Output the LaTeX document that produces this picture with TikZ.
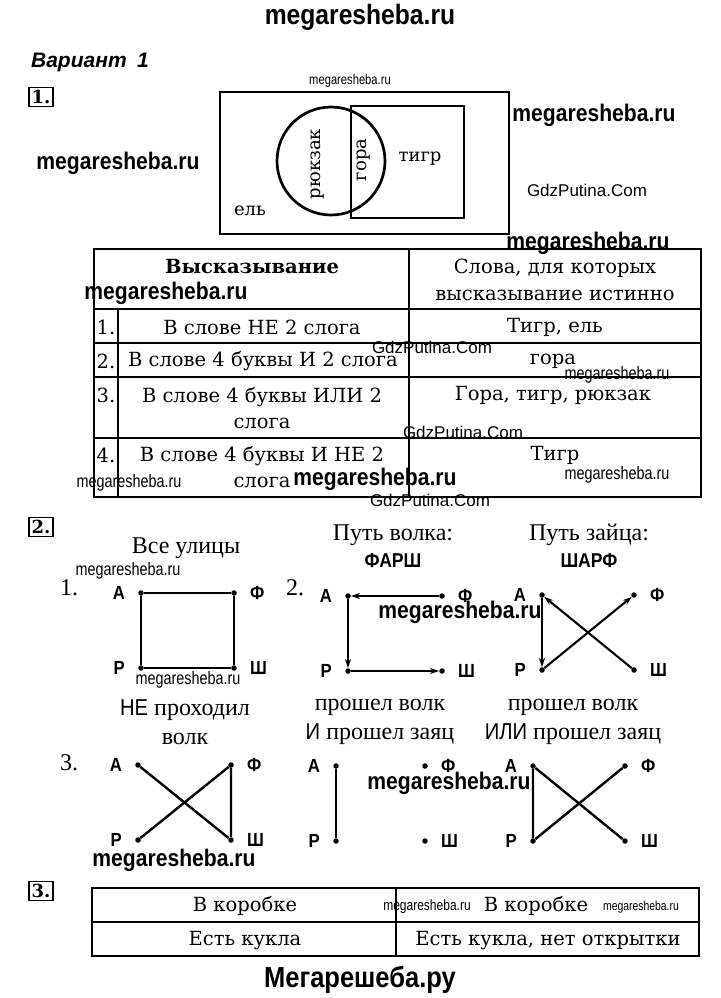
\documentclass[tikz,border=0pt]{standalone}
\usepackage{fontspec}
\setmainfont{DejaVu Serif}
\newfontfamily\timesfont{Liberation Serif}
\newfontfamily\wmfont[FakeStretch=0.88]{Liberation Sans}
\newfontfamily\thinfont[FakeStretch=0.8]{Liberation Sans}
\newfontfamily\gdzfont{Liberation Sans}
\usetikzlibrary{arrows.meta,positioning}
\newcommand{\sansword}[1]{{\wmfont\fontsize{23}{23}\selectfont #1}}

\begin{document}
\begin{tikzpicture}[x=1pt, y=-1pt,
  wmark/.style={inner sep=0, font=\wmfont\bfseries\fontsize{24}{24}\selectfont},
  wbig/.style={inner sep=0, font=\wmfont\bfseries\fontsize{28}{28}\selectfont},
  wthin/.style={inner sep=0, font=\thinfont\fontsize{18}{18}\selectfont},
  gdz/.style={inner sep=0, font=\gdzfont\fontsize{17}{17}\selectfont},
  cell/.style={inner sep=0, align=center, font=\fontsize{19.5}{26.5}\selectfont},
  vtext/.style={inner sep=0, font=\fontsize{18}{18}\selectfont},
  head/.style={inner sep=0, align=center, font=\timesfont\fontsize{24}{29}\selectfont},
  numbox/.style={draw, line width=1.3pt, inner sep=2.5pt, font=\bfseries\fontsize{18}{18}\selectfont},
  venn/.style={line width=2.7pt},
  grid/.style={line width=1.5pt},
  vtx/.style={circle, fill, inner sep=0, minimum size=5.5pt},
  lbl/.style={inner sep=0, font=\wmfont\bfseries\fontsize{19}{19}\selectfont},
  edge/.style={line width=2.4pt},
  arr/.style={line width=2.1pt, -{Stealth[length=9pt, width=6pt]}}
]
  \fill[white] (0,0) rectangle (720,998);
  \useasboundingbox (0,0) rectangle (720,998);

  \node[wbig] (site) at (360,17) {megaresheba.ru};
  \node[inner sep=0, font=\gdzfont\bfseries\itshape\fontsize{21}{21}\selectfont] (variant) at (90,62) {Вариант\enspace 1};

  % task 1
  \node[numbox] (n1) at (41,97) {1.};
  \node[wthin, font=\thinfont\fontsize{14}{14}\selectfont] (w1) at (350,81) {megaresheba.ru};
  \draw[venn] (220,92) rectangle (509,234);
  \draw[venn] (351,106) rectangle (464,218);
  \draw[venn] (331,161) circle[radius=54];
  \node[vtext, rotate=90] (ryukzak) at (318,164) {рюкзак};
  \node[vtext, rotate=90] (gora) at (364,160) {гора};
  \node[vtext] (tigr) at (420,159) {тигр};
  \node[vtext] (el) at (250,211) {ель};
  \node[wmark] (w2) at (594,115) {megaresheba.ru};
  \node[wmark] (w3) at (118,163) {megaresheba.ru};
  \node[gdz] (g1) at (587,190) {GdzPutina.Com};

  \draw[grid] (94,249) rectangle (701,497);
  \draw[grid] (409,249) -- (409,497);
  \draw[grid] (118,309) -- (118,497);
  \foreach \y in {309,343,377,438}
    \draw[grid] (94,\y) -- (701,\y);
  \node[cell, font=\bfseries\fontsize{19.5}{26.5}\selectfont] (h1) at (252,267) {Высказывание};
  \node[cell] (h2) at (555,280) {Слова, для которых\\высказывание истинно};
  \node[cell] (k1) at (106,327) {1.};
  \node[cell] (k2) at (106,361) {2.};
  \node[cell] (k3) at (106,395) {3.};
  \node[cell] (k4) at (106,455) {4.};
  \node[cell] (s1) at (262,327) {В слове НЕ 2 слога};
  \node[cell] (s2) at (263,361) {В слове 4 буквы И 2 слога};
  \node[cell] (s3) at (262,408) {В слове 4 буквы ИЛИ 2\\слога};
  \node[cell] (s4) at (262,467) {В слове 4 буквы И НЕ 2\\слога};
  \node[cell] (r1) at (555,327) {Тигр, ель};
  \node[cell] (r2) at (553,361) {гора};
  \node[cell] (r3) at (553,395) {Гора, тигр, рюкзак};
  \node[cell] (r4) at (555,455) {Тигр};
  \node[wmark] (w4) at (588,243) {megaresheba.ru};
  \node[wmark] (w5) at (166,293) {megaresheba.ru};
  \node[gdz] (g2) at (432,347) {GdzPutina.Com};
  \node[wthin] (w6) at (617,375) {megaresheba.ru};
  \node[gdz] (g3) at (463,432) {GdzPutina.Com};
  \node[wmark] (w7) at (375,479) {megaresheba.ru};
  \node[wthin] (w8) at (617,475) {megaresheba.ru};
  \node[wthin] (w9) at (129,483) {megaresheba.ru};
  \node[gdz] (g4) at (430,500) {GdzPutina.Com};

  % task 2
  \node[numbox] (n2) at (41,527) {2.};
  \node[head] (t1) at (186,548) {Все улицы};
  \node[head] (t2) at (393,535) {Путь волка:};
  \node[lbl, font=\wmfont\bfseries\fontsize{20}{20}\selectfont] (p2) at (393,561) {ФАРШ};
  \node[head] (t3) at (589,535) {Путь зайца:};
  \node[lbl, font=\wmfont\bfseries\fontsize{20}{20}\selectfont] (p3) at (589,561) {ШАРФ};
  \node[head] (m1) at (69,588) {1.};
  \node[head] (m2) at (295,588) {2.};
  \node[head] (m3) at (69,763) {3.};
  \node[head] (t4) at (185,722) {\sansword{НЕ} проходил\\волк};
  \node[head] (t5) at (380,722) {прошел волк\\\sansword{И} прошел заяц};
  \node[head] (t6) at (573,722) {прошел волк\\\sansword{ИЛИ} прошел заяц};

  \foreach \g/\x/\y/\w in {1/141/593/93, 2/348/596/94, 3/542/595/92,
                           4/138/765/93, 5/336/766/89, 6/533/766/92} {
    \node[vtx] (a\g) at (\x,\y) {};
    \node[vtx] (f\g) at (\x+\w,\y) {};
    \node[vtx] (r\g) at (\x,\y+75) {};
    \node[vtx] (sh\g) at (\x+\w,\y+75) {};
    \node[lbl, left=13pt of a\g] (la\g) {А};
    \node[lbl, right=13pt of f\g] (lf\g) {Ф};
    \node[lbl, left=13pt of r\g] (lr\g) {Р};
    \node[lbl, right=13pt of sh\g] (lsh\g) {Ш};
  }
  \draw[edge] (a1) -- (f1) -- (sh1) -- (r1) -- (a1);
  \draw[arr] (f2) -- (a2);
  \draw[arr] (a2) -- (r2);
  \draw[arr] (r2) -- (sh2);
  \draw[arr] (sh3) -- (a3);
  \draw[arr] (a3) -- (r3);
  \draw[arr] (r3) -- (f3);
  \draw[edge] (a4) -- (sh4);
  \draw[edge] (r4) -- (f4) -- (sh4);
  \draw[edge] (a5) -- (r5);
  \draw[edge] (r6) -- (a6) -- (sh6);
  \draw[edge] (r6) -- (f6);

  \node[wthin] (w10) at (128,571) {megaresheba.ru};
  \node[wthin] (w11) at (188,680) {megaresheba.ru};
  \node[wmark] (w12) at (460,612) {megaresheba.ru};
  \node[wmark] (w13) at (449,783) {megaresheba.ru};
  \node[wmark] (w14) at (174,860) {megaresheba.ru};

  % task 3
  \node[numbox] (n3) at (41,891) {3.};
  \draw[grid] (92,888) rectangle (699,956);
  \draw[grid] (396,888) -- (396,956);
  \draw[grid] (92,922) -- (699,922);
  \node[cell] (c1) at (245,906) {В коробке};
  \node[cell] (c2) at (536,906) {В коробке};
  \node[cell] (c3) at (245,941) {Есть кукла};
  \node[cell] (c4) at (548,941) {Есть кукла, нет открытки};
  \node[wthin, font=\thinfont\fontsize{15}{15}\selectfont] (w15) at (427,907) {megaresheba.ru};
  \node[wthin, font=\thinfont\fontsize{13}{13}\selectfont] (w16) at (641,907) {megaresheba.ru};
  \node[wbig, font=\wmfont\bfseries\fontsize{29}{29}\selectfont] (site2) at (360,980) {Мегарешеба.ру};
\end{tikzpicture}
\end{document}
